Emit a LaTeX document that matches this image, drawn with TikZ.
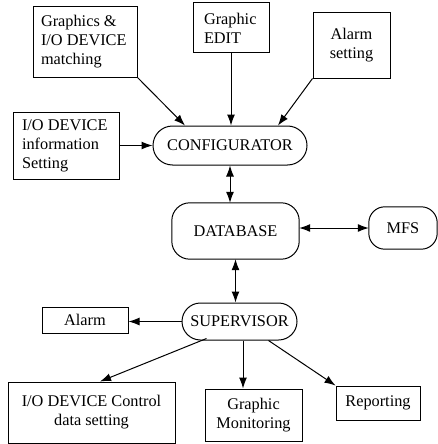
\documentclass[tikz,border=0pt]{standalone}
\usepackage{fontspec}
\setmainfont{Liberation Serif}
\usetikzlibrary{arrows.meta,shapes.misc}
\begin{document}
\begin{tikzpicture}[x=1pt,y=-1pt,
  every node/.style={font=\fontsize{16.3}{19}\selectfont},
  sqbox/.style={draw, line width=1pt, inner sep=0pt, align=center},
  lbox/.style={draw, line width=1pt, inner ysep=0pt, align=flush left},
  pill/.style={draw, line width=1pt, rounded rectangle, inner sep=0pt, align=center},
  rbox/.style={inner sep=0pt, align=center},
  rline/.style={line width=1pt},
  arr/.style={line width=1pt, -{Latex[length=11pt,width=8pt]}},
  darr/.style={line width=1pt, {Latex[length=11pt,width=8pt]}-{Latex[length=11pt,width=8pt]}}
]
\useasboundingbox (0,0) rectangle (438,444);
% top boxes
\node[lbox, inner xsep=8pt, text width=88pt, minimum height=70pt] (g) at (85,42) {Graphics \&\\I/O DEVICE\\matching};
\node[lbox, inner xsep=11pt, text width=54pt, minimum height=50pt] (edit) at (231,28) {Graphic\\EDIT};
\node[sqbox, minimum width=77pt, minimum height=65pt] (as) at (351.5,45.5) {Alarm\\setting};
\node[lbox, inner xsep=9pt, text width=88pt, minimum height=67pt] (info) at (66,145.5) {I/O DEVICE\\information\\Setting};
% pills
\node[pill, minimum width=154pt, minimum height=39pt] (conf) at (230,145.5) {CONFIGURATOR};
\node[rbox, minimum width=127pt, minimum height=56pt] (db) at (235.5,231) {DATABASE};
\draw[rline, rounded corners=18pt] (db.north west) rectangle (db.south east);
\node[rbox, minimum width=68pt, minimum height=42pt] (mfs) at (403,228) {MFS};
\draw[rline, rounded corners=16pt] (mfs.north west) rectangle (mfs.south east);
\node[pill, minimum width=115pt, minimum height=37pt] (sup) at (239.5,321.5) {SUPERVISOR};
% bottom boxes
\node[sqbox, minimum width=86pt, minimum height=26pt] (alarm) at (85,320) {Alarm};
\node[sqbox, minimum width=167pt, minimum height=61pt] (ioctl) at (91.5,412.5) {I/O DEVICE Control\\data setting};
\node[sqbox, minimum width=97pt, minimum height=52pt] (gm) at (253.5,415) {Graphic\\Monitoring};
\node[sqbox, minimum width=84pt, minimum height=34pt] (rep) at (378,403) {Reporting};
% connectors
\draw[arr] (g.south east) -- ([xshift=-45pt]conf.north);
\draw[arr] (as.south west) -- ([xshift=48pt]conf.north);
\draw[arr] (edit.south) -- (edit.south |- conf.north);
\draw[arr] (info.east) -- (info.east -| conf.west);
\draw[darr] (conf.south) -- (conf.south |- db.north);
\draw[darr] (mfs.west -| db.east) -- (mfs.west);
\draw[darr] (db.south) -- (db.south |- sup.north);
\draw[arr] (sup.west) -- (sup.west -| alarm.east);
\draw[arr] ([xshift=6pt,yshift=2pt]sup.south west) -- ([xshift=8.5pt]ioctl.north);
\draw[arr] ([xshift=3.5pt]sup.south) -- ([xshift=3.5pt]sup.south |- gm.north);
\draw[arr] ([xshift=-10pt]sup.south east) -- (rep.north west);
\end{tikzpicture}
\end{document}
